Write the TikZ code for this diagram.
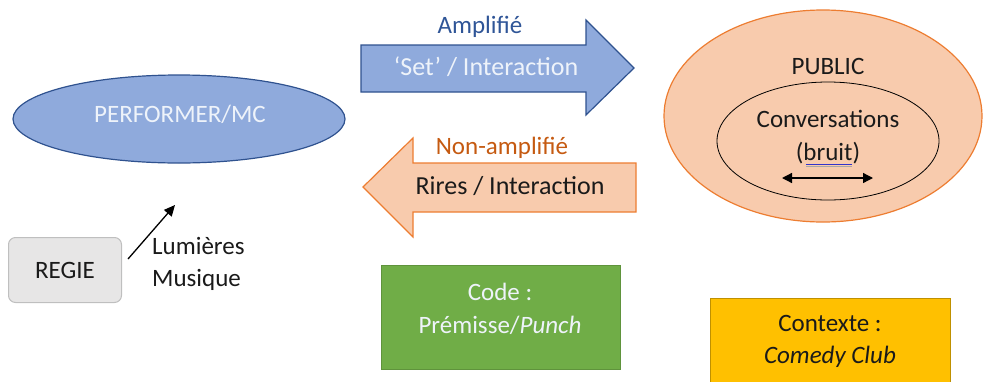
\documentclass[tikz,border=0pt]{standalone}
\usepackage{fontspec}
\setmainfont{Carlito}
\usetikzlibrary{arrows.meta,shapes.geometric}
\definecolor{bfill}{HTML}{8FAADC}
\definecolor{bdraw}{HTML}{2F528F}
\definecolor{bdark}{HTML}{2F5597}
\definecolor{ofill}{HTML}{F8CBAD}
\definecolor{odraw}{HTML}{ED7D31}
\definecolor{odark}{HTML}{C55A11}
\definecolor{gfill}{HTML}{70AD47}
\definecolor{yfill}{HTML}{FFC000}
\definecolor{ydraw}{HTML}{BF9000}
\definecolor{rfill}{HTML}{E7E6E6}
\definecolor{rdraw}{HTML}{BFBFBF}
\definecolor{ltext}{HTML}{EEF3FA}
\definecolor{txt}{HTML}{1A1A1A}
\tikzset{
  lbl/.style={font=\fontsize{25}{30}\selectfont, text=txt, inner sep=0pt, align=center},
  lblb/.style={font=\fontsize{26}{30}\selectfont, text=txt, inner sep=0pt, align=center},
}
\begin{document}
\begin{tikzpicture}[x=1pt,y=-1pt]
\useasboundingbox (0,0) rectangle (983,381);
% performer ellipse
\draw[bdraw, fill=bfill, line width=1.2pt] (179,119) ellipse [x radius=166, y radius=44];
\node[lbl, text=ltext] (perf) at (180,114) {PERFORMER/MC};
% public ellipse
\draw[odraw, fill=ofill, line width=1.2pt] (823,116) ellipse [x radius=159, y radius=106];
\draw[black, line width=0.8pt] (828,141) ellipse [x radius=111, y radius=59];
\node[lbl] (pub) at (828,66) {PUBLIC};
\node[lbl] (conv) at (828,119) {Conversations};
\node[lbl] (bruit) at (828,153) {(bruit)};
\draw[blue!60!gray, line width=0.8pt] (806,164) -- (852,164);
\draw[gray!70, line width=0.8pt] (806,166.5) -- (852,166.5);
\coordinate (bl) at (782,178);
\coordinate (br) at (873,178);
\draw[line width=1.3pt, {Triangle[length=10pt,width=10pt]}-{Triangle[length=10pt,width=10pt]}] (bl) -- (br);
% blue arrow
\draw[bdraw, fill=bfill, line width=1.2pt]
  (361,45) -- (586,45) -- (586,20) -- (634,68) -- (586,115) -- (586,92) -- (361,92) -- cycle;
\node[lbl, text=bdark] (amp) at (480,27) {Amplifié};
\node[lblb, text=ltext] (set) at (486,67) {‘Set’ / Interaction};
% orange arrow
\draw[odraw, fill=ofill, line width=1.2pt]
  (636,163) -- (413,163) -- (413,138) -- (363,187) -- (413,237) -- (413,212) -- (636,212) -- cycle;
\node[lbl, text=odark] (namp) at (502,148) {Non-amplifié};
\node[lblb] (rires) at (510,186) {Rires / Interaction};
% regie
\node[draw=rdraw, fill=rfill, rounded corners=7pt, line width=1pt, minimum width=113pt, minimum height=65pt, font=\fontsize{25}{30}\selectfont, text=txt] (regie) at (65,270) {REGIE};
\coordinate (ra) at (128,259);
\coordinate (rb) at (175,205);
\draw[line width=1.3pt, -{Triangle[length=11pt,width=10pt]}] (ra) -- (rb);
\node[lbl, anchor=west, align=left] (lum) at (152,264) {Lumières\\[2pt]Musique};
% green box
\draw[fill=gfill, draw=gfill!85!black, line width=0.6pt] (381,265) rectangle (620,369);
\node[font=\fontsize{25}{33}\selectfont, text=ltext, align=center, inner sep=0pt] (code) at (500,309) {Code :\\Prémisse/\textit{Punch}};
% yellow box
\draw[fill=yfill, draw=ydraw, line width=1pt] (710,298) rectangle (950,395);
\node[font=\fontsize{25}{32}\selectfont, text=txt, align=center, inner sep=0pt] (ctx) at (830,341) {Contexte :\\\textit{Comedy Club}};
\end{tikzpicture}
\end{document}
